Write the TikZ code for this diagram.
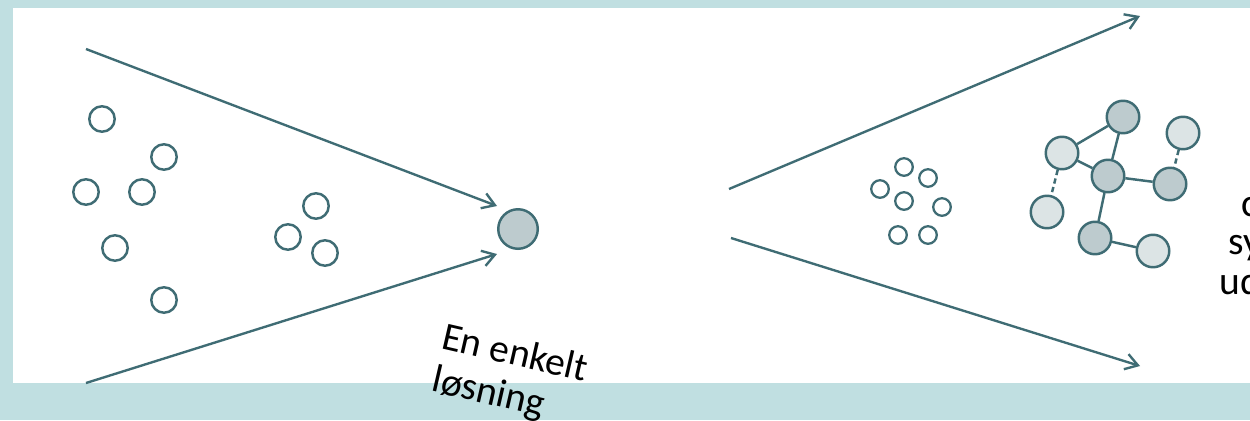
\documentclass[tikz,border=0pt]{standalone}
\usepackage{fontspec}
\setmainfont{Carlito}
\usetikzlibrary{arrows.meta}
\definecolor{bgteal}{HTML}{C0DFE1}
\definecolor{ink}{HTML}{3F6C74}
\definecolor{darkfill}{HTML}{BDCBCE}
\definecolor{lightfill}{HTML}{DCE4E5}
\tikzset{
  arr/.style={draw=ink, line width=1.35pt, -{Straight Barb[length=7pt,width=9pt,line width=1.35pt]}},
  dot/.style={circle, draw=ink, line width=1.4pt, fill=white, minimum size=14.5pt, inner sep=0pt},
  tinydot/.style={circle, draw=ink, line width=1.3pt, fill=white, minimum size=10pt, inner sep=0pt},
  bigdot/.style={circle, draw=ink, line width=1.4pt, fill=darkfill, minimum size=22.5pt, inner sep=0pt},
  netdark/.style={circle, draw=ink, line width=1.4pt, fill=darkfill, minimum size=18.5pt, inner sep=0pt},
  netlight/.style={circle, draw=ink, line width=1.4pt, fill=lightfill, minimum size=18.5pt, inner sep=0pt},
  link/.style={draw=ink, line width=1.4pt},
  dlink/.style={draw=ink, line width=1.4pt, dash pattern=on 3pt off 2pt},
  lbl/.style={font=\fontsize{22.5}{25}\selectfont, text=black, inner sep=0pt},
}
\begin{document}
\begin{tikzpicture}[x=0.02cm, y=-0.02cm]
\useasboundingbox (0,0) rectangle (1250,420);
\clip (0,0) rectangle (1250,420);
\fill[bgteal] (0,0) rectangle (1250,420);
\fill[white] (13,8) rectangle (1250,383);

% left funnel
\coordinate (tl) at (86,49);
\coordinate (bl) at (86,383);
\node[bigdot] (one) at (518,229) {};
\coordinate (tlt) at (497,206);
\coordinate (blt) at (497,254);
\draw[arr] (tl) -- (tlt);
\draw[arr] (bl) -- (blt);

% scattered ideas
\node[dot] (c1) at (102,119) {};
\node[dot] (c2) at (164,157) {};
\node[dot] (c3) at (86,192) {};
\node[dot] (c4) at (142,192) {};
\node[dot] (c5) at (115,248) {};
\node[dot] (c6) at (164,300) {};
\node[dot] (c7) at (316,206) {};
\node[dot] (c8) at (288,237) {};
\node[dot] (c9) at (325,253) {};

\node[lbl, rotate=-13, anchor=north west, align=left] (single) at (446,321) {En enkelt\\løsning};

% right funnel
\coordinate (tr) at (729,189);
\coordinate (br) at (731,238);
\coordinate (trt) at (1140,16);
\coordinate (brt) at (1140,366);
\draw[arr] (tr) -- (trt);
\draw[arr] (br) -- (brt);

% small cluster
\node[tinydot] (s1) at (904,167) {};
\node[tinydot] (s2) at (928,178) {};
\node[tinydot] (s3) at (880,189) {};
\node[tinydot] (s4) at (904,201) {};
\node[tinydot] (s5) at (942,207) {};
\node[tinydot] (s6) at (898,235) {};
\node[tinydot] (s7) at (928,235) {};

% network
\node[netlight] (nA) at (1062,153) {};
\node[netdark] (nB) at (1123,117) {};
\node[netlight] (nC) at (1183,133) {};
\node[netdark] (nD) at (1108,176) {};
\node[netdark] (nE) at (1170,184) {};
\node[netlight] (nF) at (1047,212) {};
\node[netdark] (nG) at (1095,238) {};
\node[netlight] (nH) at (1153,251) {};
\draw[link] (nA) -- (nB);
\draw[link] (nA) -- (nD);
\draw[link] (nB) -- (nD);
\draw[link] (nD) -- (nE);
\draw[link] (nD) -- (nG);
\draw[link] (nG) -- (nH);
\draw[dlink] (nA) -- (nF);
\draw[dlink] (nC) -- (nE);

% clipped text at right edge
\node[lbl, anchor=base west] (r1) at (1241,216) {c};
\node[lbl, anchor=base west] (r2) at (1228,254) {sy};
\node[lbl, anchor=base west] (r3) at (1219,294) {ud};
\end{tikzpicture}
\end{document}
